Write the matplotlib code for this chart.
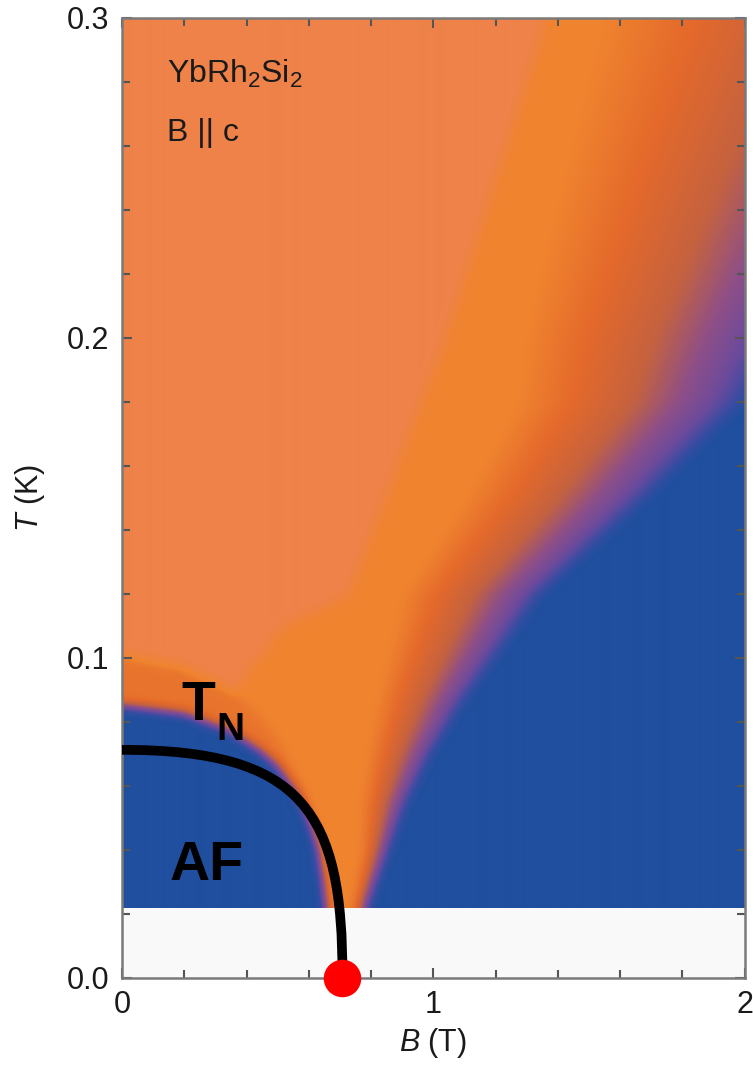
import numpy as np
import matplotlib
matplotlib.use("Agg")
import matplotlib.pyplot as plt
from matplotlib.colors import LinearSegmentedColormap
from matplotlib.ticker import MultipleLocator
from matplotlib.path import Path
from matplotlib.patches import PathPatch

plt.rcParams['font.family'] = ['Liberation Sans', 'DejaVu Sans']
plt.rcParams['mathtext.fontset'] = 'custom'
plt.rcParams['mathtext.rm'] = 'Liberation Sans'
plt.rcParams['mathtext.it'] = 'Liberation Sans:italic'
plt.rcParams['mathtext.bf'] = 'Liberation Sans:bold'
plt.rcParams['mathtext.default'] = 'regular'

# ---------------- data ----------------
B_range = [0.0, 2.0]
T_data_range = [0.022, 0.3]

# fan (non-Fermi-liquid region): blue edge R(T) and width W(T) of the crossover
fan_T = [0.022, 0.040, 0.055, 0.070, 0.087, 0.100, 0.120, 0.150, 0.180, 0.200, 0.250, 0.300]
fan_R = [0.79, 0.86, 0.92, 1.00, 1.11, 1.21, 1.36, 1.70, 2.01, 2.13, 2.45, 2.78]
fan_W = [0.05, 0.09, 0.15, 0.21, 0.29, 0.36, 0.46, 0.60, 0.74, 0.84, 1.04, 1.24]

# left boundary between pale-orange region and fan
light_T = [0.022, 0.090, 0.098, 0.103, 0.108, 0.112, 0.116, 0.120, 0.200, 0.300]
light_L = [0.36, 0.37, 0.42, 0.47, 0.50, 0.56, 0.66, 0.73, 1.04, 1.365]

# AF dome (blue) upper edge and orange band above it
dome_B = [0.0, 0.20, 0.35, 0.45, 0.50, 0.57, 0.61, 0.635, 0.65, 0.66, 0.665]
dome_T = [0.0855, 0.083, 0.0775, 0.071, 0.0665, 0.057, 0.048, 0.040, 0.030, 0.022, 0.0]
band_w = [0.016, 0.0145, 0.013, 0.010, 0.008, 0.005, 0.003, 0.0, 0.0, 0.0, 0.0]

# colour-scale levels
g_knots = [0.0, 0.06, 0.15, 0.30, 0.50, 0.76, 1.0]
v_knots = [1.0, 0.91, 0.82, 0.70, 0.55, 0.42, 0.27]
band_level = 0.36
cmap_pos = [0.0, 0.27, 0.42, 0.55, 0.70, 0.82, 0.91, 1.0]
cmap_col = ['#EE8249', '#F0842F', '#E4692B', '#C5623F', '#8E4F88', '#6C4A9C', '#3E4CA2', '#1F4F9E']

# T_N line (cubic Bezier: start, two control points, end) and quantum critical point
TN_B = [0.0, 0.58, 0.71, 0.708]
TN_T = [0.0713, 0.0713, 0.052, 0.0]
qcp_B = [0.706]
qcp_T = [0.0]

# ---------------- build the map ----------------
nB, nT = 624, 890
Bc = B_range[0] + (np.arange(nB) + 0.5) / nB * (B_range[1] - B_range[0])
Tc = T_data_range[0] + (np.arange(nT) + 0.5) / nT * (T_data_range[1] - T_data_range[0])
BB, TT = np.meshgrid(Bc, Tc)

R = np.interp(Tc, fan_T, fan_R)[:, None]
W = np.interp(Tc, fan_T, fan_W)[:, None]
L = np.interp(Tc, light_T, light_L)[:, None]
g = (R - BB) / W
v_fan = np.interp(g, g_knots, v_knots)
v_fan = np.where(BB < L, 0.0, v_fan)

Dt = np.interp(Bc, dome_B, dome_T, right=-1.0)[None, :]
wb = np.interp(Bc, dome_B, band_w, right=0.0)[None, :]
v_dome = np.where(TT < Dt, 1.0, np.where(TT < Dt + wb, band_level, 0.0))
v = np.maximum(v_fan, v_dome)


def gblur(a, s):
    r = int(3 * s)
    x = np.arange(-r, r + 1)
    k = np.exp(-0.5 * (x / s) ** 2)
    k /= k.sum()
    ap = np.pad(a, ((r, r), (0, 0)), mode='edge')
    a = np.apply_along_axis(lambda c: np.convolve(c, k, mode='valid'), 0, ap)
    ap = np.pad(a, ((0, 0), (r, r)), mode='edge')
    a = np.apply_along_axis(lambda c: np.convolve(c, k, mode='valid'), 1, ap)
    return a


v = gblur(v, 5.5)

cmap = LinearSegmentedColormap.from_list('nfl', list(zip(cmap_pos, cmap_col)))

# ---------------- figure ----------------
fig = plt.figure(figsize=(7.53, 10.65), dpi=100)
ax = fig.add_axes([0.162, 0.0817, 0.827, 0.9014])
ax.set_facecolor('#f9f9f9')

ax.imshow(v, extent=[B_range[0], B_range[1], T_data_range[0], T_data_range[1]],
          origin='lower', aspect='auto', cmap=cmap, vmin=0, vmax=1,
          interpolation='bilinear', zorder=0)

tn_codes = [Path.MOVETO, Path.CURVE4, Path.CURVE4, Path.CURVE4]
tn_path = Path(list(zip(TN_B, TN_T)), tn_codes)
ax.add_patch(PathPatch(tn_path, facecolor='none', edgecolor='black', lw=7, capstyle='butt', zorder=3))
ax.plot(qcp_B, qcp_T, 'o', ms=27, color='#ff0000', mec='none', clip_on=False, zorder=5)

ax.set_xlim(0, 2)
ax.set_ylim(0, 0.3)
ax.set_xticks([0, 1, 2])
ax.set_xticklabels(['0', '1', '2'])
ax.set_yticks([0.0, 0.1, 0.2, 0.3])
ax.set_yticklabels(['0.0', '0.1', '0.2', '0.3'])
ax.xaxis.set_minor_locator(MultipleLocator(0.2))
ax.yaxis.set_minor_locator(MultipleLocator(0.02))
ax.tick_params(which='both', direction='in', top=True, right=True, color='#555555', width=1.5)
ax.tick_params(which='major', length=7, labelsize=22, pad=9, labelcolor='#1a1a1a')
ax.tick_params(which='minor', length=6)
for s in ax.spines.values():
    s.set_color('#7a7a7a')
    s.set_linewidth(1.8)

ax.set_xlabel('$\\mathit{B}$ (T)', fontsize=22, labelpad=4, color='#1a1a1a')
ax.set_ylabel('$\\mathit{T}$ (K)', fontsize=22, labelpad=14, color='#1a1a1a')

ax.text(0.145, 0.2797, 'YbRh$_2$Si$_2$', fontsize=23, color='#1a1a1a', ha='left', va='baseline')
ax.text(0.145, 0.2615, 'B || c', fontsize=23, color='#1a1a1a', ha='left', va='baseline')
ax.text(0.19, 0.0806, 'T', fontsize=40, fontweight='bold', color='black', ha='left', va='baseline')
ax.text(0.302, 0.0744, 'N', fontsize=28, fontweight='bold', color='black', ha='left', va='baseline')
ax.text(0.152, 0.0306, 'AF', fontsize=40, fontweight='bold', color='black', ha='left', va='baseline')

fig.savefig('out.png', dpi=100)
